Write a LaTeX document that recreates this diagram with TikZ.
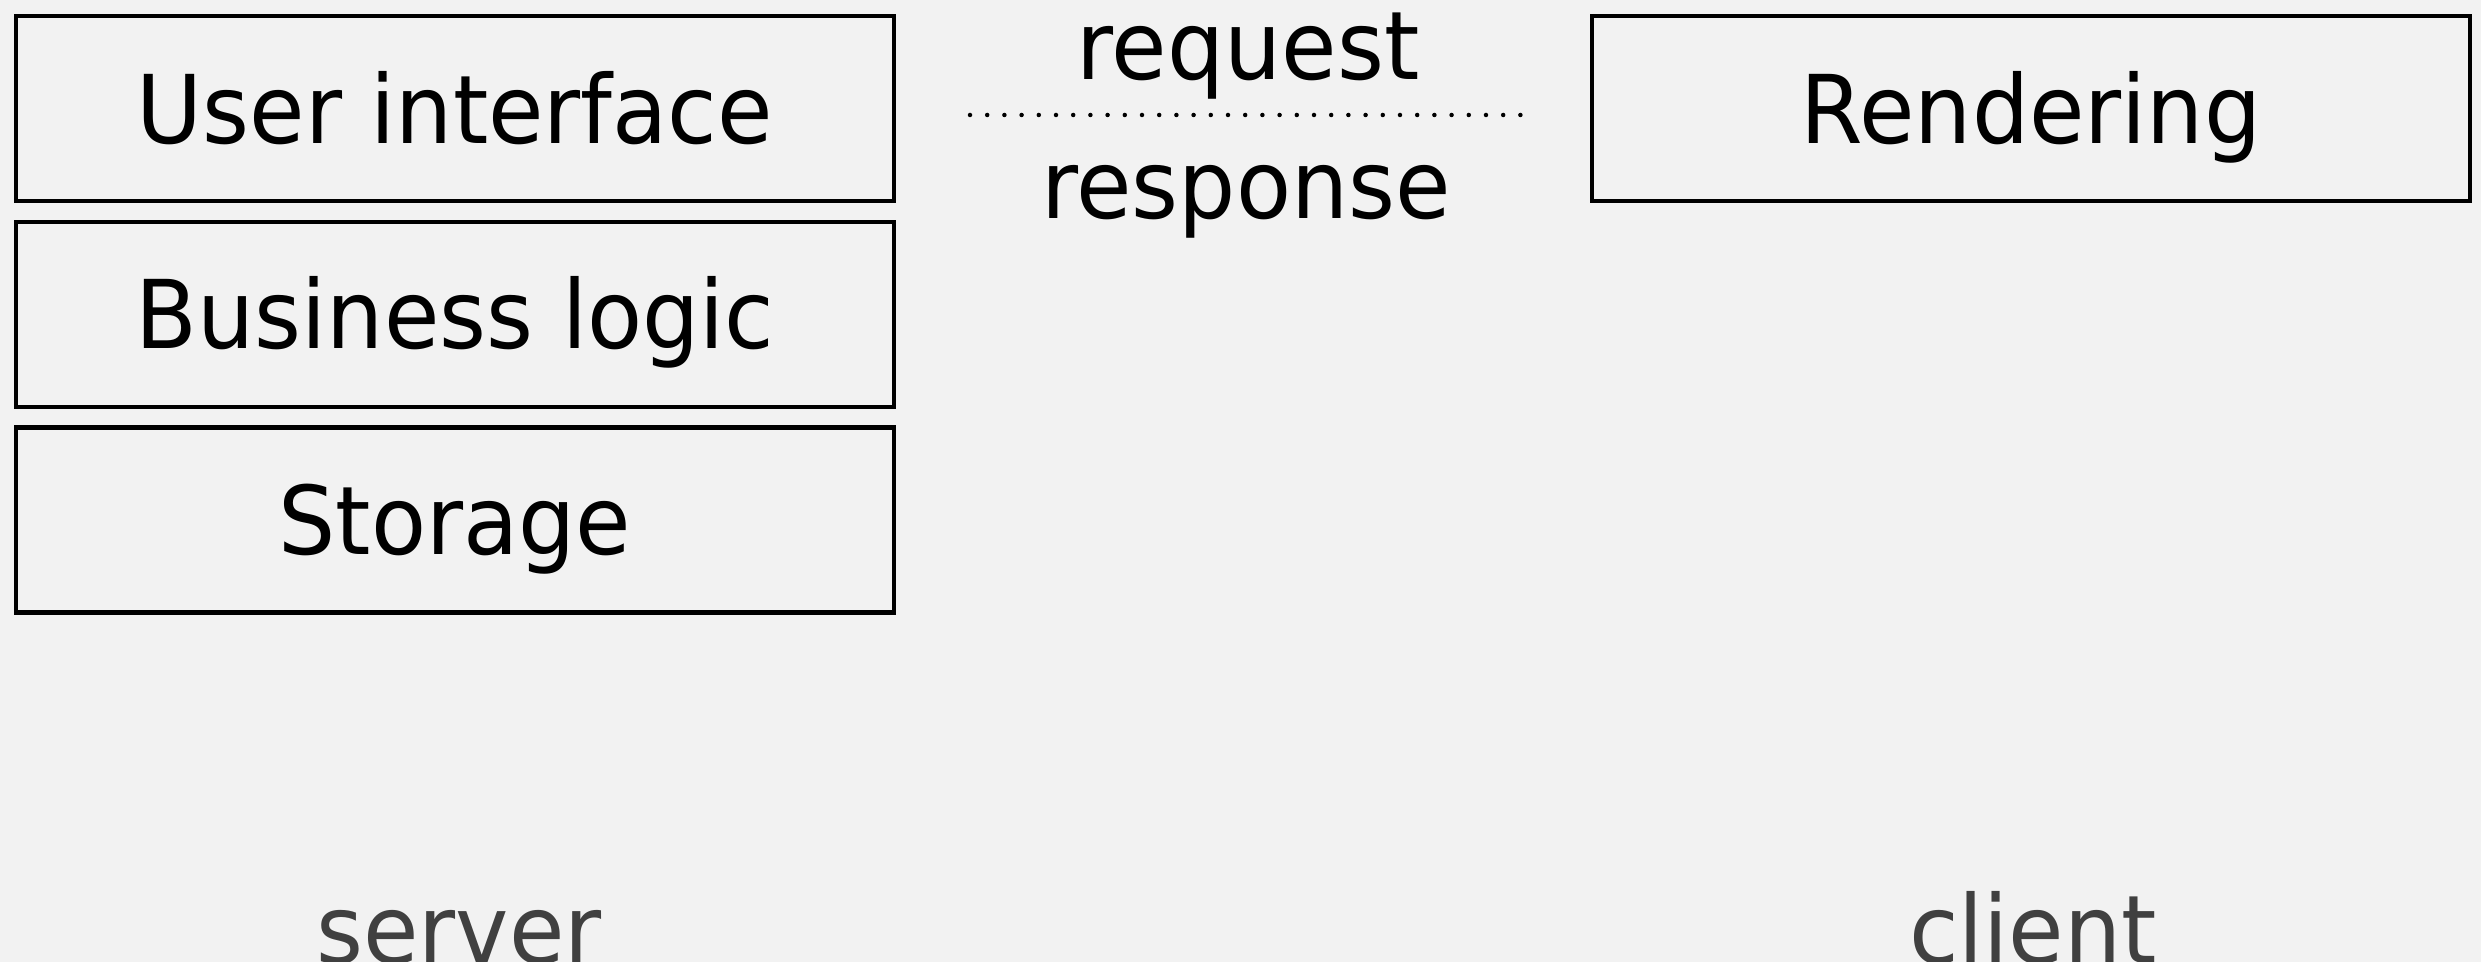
\documentclass[tikz,border=0pt]{standalone}
\usepackage{fontspec}
\setmainfont{DejaVu Sans}[FakeStretch=0.95]
\usetikzlibrary{positioning}
\definecolor{slidebg}{HTML}{F2F2F2}
\definecolor{sidetext}{HTML}{404040}

\begin{document}
\begin{tikzpicture}[
  layer/.style={draw,line width=1.2pt,minimum width=8.78cm,minimum height=1.85cm,inner sep=0pt,
    font=\fontsize{27}{32}\selectfont,text height=19.7pt,text depth=0pt},
  word/.style={anchor=base,inner sep=0pt,font=\fontsize{27}{32}\selectfont},
  node distance=0.165cm]
\useasboundingbox (0,0) rectangle (24.81,-9.62);
\fill[slidebg] (0,0) rectangle (24.81,-9.62);
\node[layer] (ui) at (4.55,-1.085) {User interface};
\node[layer,below=of ui] (logic) {Business logic};
\node[layer,below=of logic] (storage) {Storage};
\node[layer] (render) at (20.31,-1.085) {Rendering};
\coordinate (linkL) at (9.70,-1.15);
\coordinate (linkR) at (15.22,-1.15);
\draw[line width=0.045cm,line cap=round,dash pattern=on 0pt off 0.172cm] (linkL) -- (linkR);
\node[word] (req) at (12.48,-0.80) {request};
\node[word] (resp) at (12.46,-2.19) {response};
\node[word,text=sidetext] (server) at (4.59,-9.64) {server};
\node[word,text=sidetext] (client) at (20.33,-9.64) {client};
\end{tikzpicture}
\end{document}
